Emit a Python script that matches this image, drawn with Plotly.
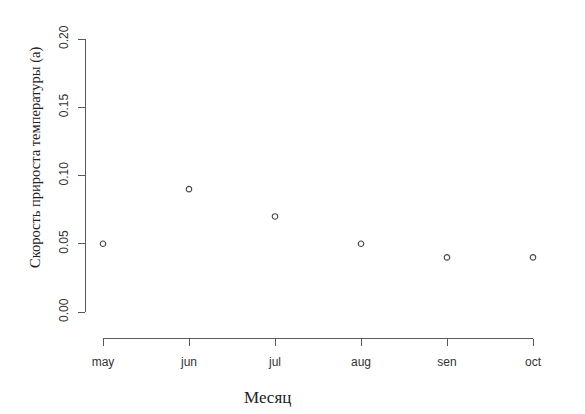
import plotly.graph_objects as go

months = ["may", "jun", "jul", "aug", "sen", "oct"]
rate = [0.05, 0.09, 0.07, 0.05, 0.04, 0.04]
y_ticks = [0.00, 0.05, 0.10, 0.15, 0.20]

OFF = 8  # page body margin
W, H = 585 - OFF, 414 - OFF
# target page pixel positions
AX_L, AX_R, AX_T, AX_B = 85, 533, 39, 338
DATA_L, DATA_B = 103, 312
L, T = AX_L - OFF, AX_T - OFF
R, B = W - (AX_R - OFF), H - (AX_B - OFF)
pw, ph = W - L - R, H - T - B

fig = go.Figure()
fig.add_trace(go.Scatter(
    x=list(range(len(months))), y=rate, mode="markers",
    marker=dict(symbol="circle-open", size=5.5, color="#444444", line=dict(width=1.1)),
    cliponaxis=False, showlegend=False,
))

axis_color = "#5a5a5a"
fig.update_layout(
    width=W, height=H,
    margin=dict(l=L, r=R, t=T, b=B, autoexpand=False),
    paper_bgcolor="white", plot_bgcolor="white",
    xaxis=dict(
        domain=[(DATA_L - AX_L) / pw, 1], range=[0, len(months) - 1],
        anchor="free", position=0,
        tickvals=list(range(len(months))), ticktext=months,
        showline=True, linecolor=axis_color, linewidth=1.3,
        ticks="outside", ticklen=7, tickcolor=axis_color, tickwidth=1.3,
        ticklabelstandoff=5,
        showgrid=False, zeroline=False,
        tickfont=dict(family="Liberation Sans", size=12, color="#333333"),
    ),
    yaxis=dict(
        domain=[(AX_B - DATA_B) / ph, 1], range=[0, 0.2],
        anchor="free", position=0,
        tickvals=y_ticks, ticktext=[f"{v:.2f}" for v in y_ticks],
        tickangle=-90,
        showline=True, linecolor=axis_color, linewidth=1.3,
        ticks="outside", ticklen=7, tickcolor=axis_color, tickwidth=1.3,
        ticklabelstandoff=5,
        showgrid=False, zeroline=False,
        tickfont=dict(family="Liberation Sans", size=12, color="#333333"),
    ),
    annotations=[
        dict(text="Скорость прироста температуры (a)", xref="paper", yref="paper",
             x=(35 - AX_L) / pw, y=(AX_B - 158) / ph, textangle=-90,
             xanchor="center", yanchor="middle", showarrow=False,
             font=dict(family="Liberation Serif", size=14.5, color="#222222")),
        dict(text="Месяц", xref="paper", yref="paper",
             x=(267 - AX_L) / pw, y=(AX_B - 397) / ph,
             xanchor="center", yanchor="middle", showarrow=False,
             font=dict(family="Liberation Serif", size=17, color="#222222")),
    ],
)

fig.write_html("out.html")
